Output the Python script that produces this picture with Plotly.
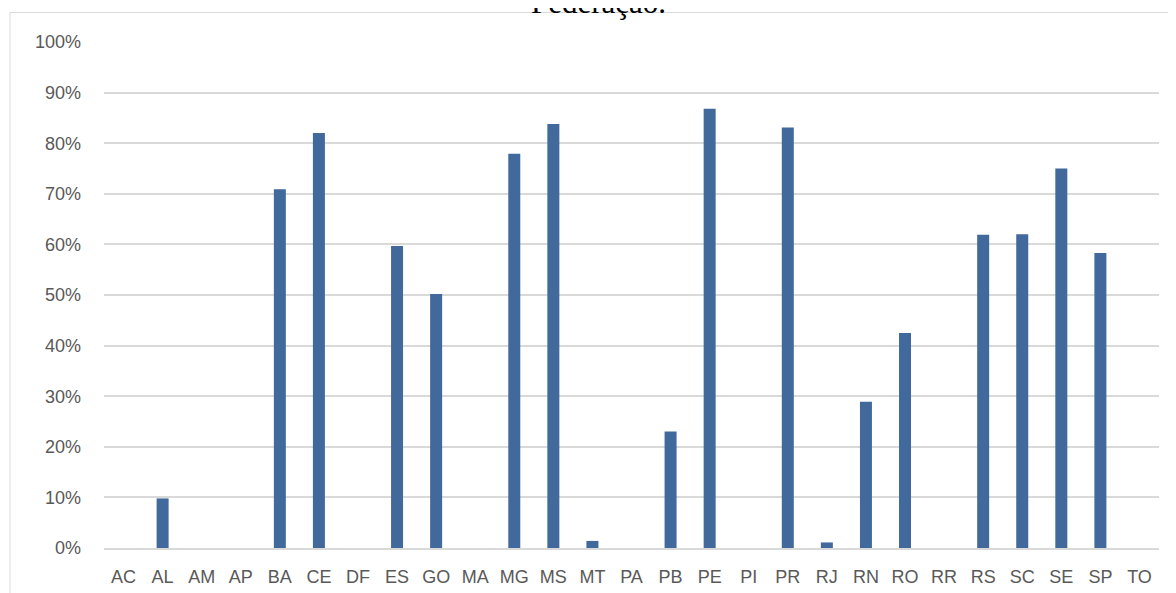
import plotly.graph_objects as go

states = ["AC", "AL", "AM", "AP", "BA", "CE", "DF", "ES", "GO", "MA", "MG", "MS", "MT",
          "PA", "PB", "PE", "PI", "PR", "RJ", "RN", "RO", "RR", "RS", "SC", "SE", "SP", "TO"]
values = [0, 9.8, 0, 0, 70.9, 82.0, 0, 59.7, 50.2, 0, 77.9, 83.8, 1.4,
          0, 23.0, 86.8, 0, 83.1, 1.1, 28.9, 42.5, 0, 61.9, 62.0, 75.0, 58.3, 0]
y_ticks = [0, 10, 20, 30, 40, 50, 60, 70, 80, 90, 100]
y_tick_labels = [f"{t}%" for t in y_ticks]
title_text = "Federação."

fig = go.Figure()
fig.add_trace(go.Bar(
    x=states, y=values,
    marker=dict(color="#41699c", line=dict(width=0)),
))

# page has an 8px body margin; figure coordinates are screen - 8
W, H = 1176, 593
ml, mr, mt, mb = 96, 25, 34, 53
pw = W - ml - mr
ph = H - mt - mb
OFF = 8

def px_x(sx):
    return (sx - OFF - ml) / pw

def px_y(sy):
    return (H - mb - (sy - OFF)) / ph

fig.update_layout(
    width=W, height=H,
    margin=dict(l=ml, r=mr, t=mt, b=mb, pad=0),
    paper_bgcolor="white", plot_bgcolor="white",
    bargap=0.693,
    showlegend=False,
    font=dict(family="Liberation Sans", size=18, color="#595959"),
    xaxis=dict(showgrid=False, showline=True, linecolor="#d9d9d9", linewidth=1.5,
               ticks="", tickfont=dict(size=18, color="#595959"), ticklabelstandoff=12),
    yaxis=dict(range=[0, 100], tickvals=y_ticks, ticktext=y_tick_labels,
               showgrid=True, gridcolor="#d9d9d9", gridwidth=1.5,
               zeroline=False, showline=False, ticks="",
               tickfont=dict(size=18, color="#595959"), ticklabelstandoff=22),
    shapes=[dict(type="rect", xref="paper", yref="paper",
                 x0=px_x(10), x1=1.2,
                 y0=-0.3, y1=px_y(12.5),
                 line=dict(color="#d9d9d9", width=1), fillcolor="rgba(0,0,0,0)",
                 layer="below")],
    annotations=[dict(text=title_text, xref="paper", yref="paper",
                      x=px_x(598), y=px_y(22.5),
                      xanchor="center", yanchor="bottom", showarrow=False,
                      font=dict(family="Liberation Serif", size=31, color="black"))],
)

fig.write_html("out.html")
